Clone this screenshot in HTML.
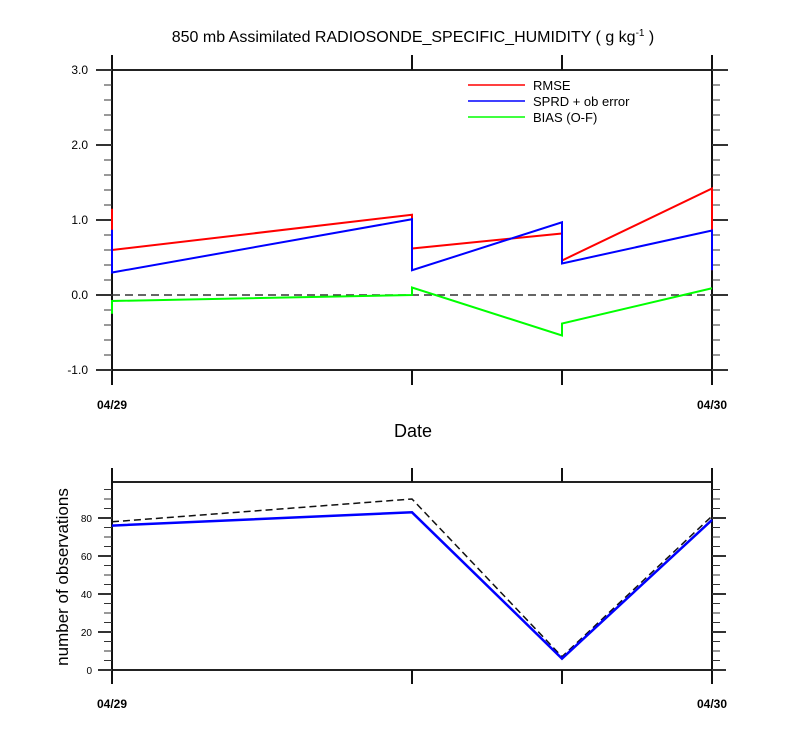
<!DOCTYPE html>
<html><head><meta charset="utf-8"><style>
body{margin:0;background:#fff;}
svg text{font-family:"Liberation Sans",sans-serif;}
</style></head><body>
<svg id="chart" width="800" height="750" xmlns="http://www.w3.org/2000/svg">
<text x="413" y="42" font-size="16" text-anchor="middle">850 mb Assimilated RADIOSONDE_SPECIFIC_HUMIDITY ( g kg<tspan dy="-6" font-size="10">-1</tspan><tspan dy="6"> )</tspan></text>
<text x="413" y="437" font-size="18" text-anchor="middle">Date</text>
<text transform="translate(68,577) rotate(-90)" font-size="17" text-anchor="middle">number of observations</text>
<g id="top"></g><g id="bot"></g>
</svg>
<script>
const xCats=[0,1,2,3];
const xLabels=["04/29","","","04/30"];
// sawtooth series: [start, end] per x position
const rmse=[1.15,0.60,1.07,0.62,0.82,0.46,1.42,0.33];
const sprd=[0.87,0.30,1.01,0.33,0.97,0.42,0.86,0.33];
const bias=[-0.25,-0.08,0.00,0.10,-0.54,-0.38,0.09,0.09];
const topTicks=[-1.0,0.0,1.0,2.0,3.0];
const obsTotal=[78,90,7,81];
const obsUsed=[76,83,6,79];
const botTicks=[0,20,40,60,80];
const NS="http://www.w3.org/2000/svg";
const svg=document.getElementById('chart');
function mk(tag,attrs,parent){const e=document.createElementNS(NS,tag);for(const k in attrs)e.setAttribute(k,attrs[k]);(parent||svg).appendChild(e);return e;}
const xs=[112,412,562,712];
function X(i){return xs[i];}
function Yt(v){return 295-75*v;}
function Yb(v){return 670-1.9*v;}
const gt=document.getElementById('top'),gb=document.getElementById('bot');
function frame(g,yTop,yBot,ext){
  let l=mk('line',{x1:112,y1:yTop,x2:712,y2:yTop,stroke:'#222','stroke-width':2},g);
  
  l=mk('line',{x1:112,y1:yBot,x2:712,y2:yBot,stroke:'#222','stroke-width':2},g);
  
  xCats.forEach(i=>{
    const t=mk('line',{x1:X(i),y1:yTop-ext,x2:X(i),y2:(i==0||i==3)?yBot+ext:yTop,stroke:'#111','stroke-width':2},g);
    
    const b=mk('line',{x1:X(i),y1:yBot,x2:X(i),y2:yBot+ext,stroke:'#111','stroke-width':2},g);
    
    if(xLabels[i]){const tx=mk('text',{x:X(i),y:yBot+ext+24,'font-size':12,'font-weight':'bold','text-anchor':'middle'},g);tx.textContent=xLabels[i];
    }
  });
}
frame(gt,70,370,15);
for(let v=-1;v<=3.001;v+=0.2){const y=Yt(v);const maj=Math.abs(v-Math.round(v))<0.01;const L=maj?16:8;
  mk('line',{x1:112-L,y1:y,x2:112,y2:y,stroke:'#333','stroke-width':maj?2:1},gt);
  mk('line',{x1:712,y1:y,x2:712+L,y2:y,stroke:'#333','stroke-width':maj?2:1},gt);}
topTicks.forEach(v=>{const t=mk('text',{x:88,y:Yt(v)+4,'font-size':12,'text-anchor':'end'},gt);t.textContent=v.toFixed(1);
});
let z=mk('line',{x1:112,y1:Yt(0),x2:712,y2:Yt(0),stroke:'#333','stroke-width':1.5,'stroke-dasharray':'8,5'},gt);

function saw(arr){let pts=[];
  for(let i=0;i<4;i++){pts.push(X(i)+','+Yt(arr[2*i]));pts.push(X(i)+','+Yt(arr[2*i+1]));}
  return pts.join(' ');}
[[rmse,'#f00','rmse-line'],[sprd,'#00f','sprd-line'],[bias,'#0f0','bias-line']].forEach(([a,c,n])=>{
  const p=mk('polyline',{points:saw(a),fill:'none',stroke:c,'stroke-width':2},gt);
  });
[['RMSE','#f00'],['SPRD + ob error','#00f'],['BIAS (O-F)','#0f0']].forEach(([t,c],i)=>{
  const y=85+16*i;
  const l=mk('line',{x1:468,y1:y,x2:525,y2:y,stroke:c,'stroke-width':1.5},gt);
  
  const tx=mk('text',{x:533,y:y+5,'font-size':13},gt);tx.textContent=t;
  });
frame(gb,482,670,14);
for(let v=0;v<=95;v+=5){const y=Yb(v);const maj=v%20==0;const L=maj?14:8;
  mk('line',{x1:112-L,y1:y,x2:112,y2:y,stroke:'#333','stroke-width':maj?2:1},gb);
  mk('line',{x1:712,y1:y,x2:712+L,y2:y,stroke:'#333','stroke-width':maj?2:1},gb);}
botTicks.forEach(v=>{const t=mk('text',{x:92,y:Yb(v)+4,'font-size':10,'text-anchor':'end'},gb);t.textContent=v;
});
let p=mk('polyline',{points:obsTotal.map((v,i)=>X(i)+','+Yb(v)).join(' '),fill:'none',stroke:'#111','stroke-width':1.5,'stroke-dasharray':'7,4'},gb);

p=mk('polyline',{points:obsUsed.map((v,i)=>X(i)+','+Yb(v)).join(' '),fill:'none',stroke:'#00f','stroke-width':2.5},gb);

</script>
</body></html>
